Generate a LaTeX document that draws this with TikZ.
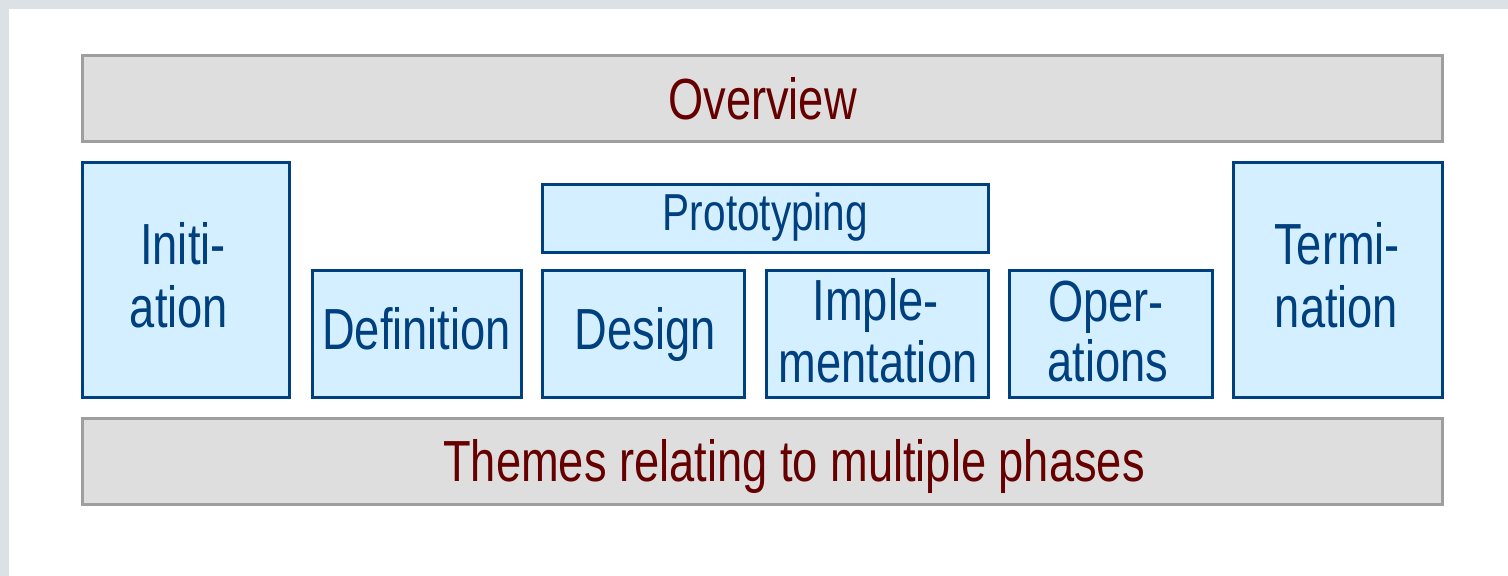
\documentclass[tikz,border=0pt]{standalone}
\usepackage{fontspec}
\newfontfamily\phasefont[FakeStretch=0.78]{Liberation Sans}
\definecolor{framegrey}{HTML}{DCE1E6}
\definecolor{barfill}{HTML}{DEDEDE}
\definecolor{barline}{HTML}{9E9E9E}
\definecolor{phasefill}{HTML}{D4EFFF}
\definecolor{phaseline}{HTML}{00407F}
\definecolor{bartext}{HTML}{660000}
\tikzset{
  bar/.style={draw=barline, fill=barfill, line width=1.5pt, inner sep=0pt, outer sep=0pt,
              minimum width=680pt, minimum height=43pt},
  phase/.style={draw=phaseline, fill=phasefill, line width=1.5pt, inner sep=0pt, outer sep=0pt},
  bartxt/.style={anchor=base, inner sep=0pt, text=bartext, font=\phasefont\fontsize{29pt}{31pt}\selectfont},
  phasetxt/.style={anchor=base, inner sep=0pt, text=phaseline, font=\phasefont\fontsize{29pt}{31pt}\selectfont},
  prototxt/.style={anchor=base, inner sep=0pt, text=phaseline, font=\phasefont\fontsize{26pt}{28pt}\selectfont}
}
\begin{document}
\begin{tikzpicture}[x=0.5pt, y=-0.5pt]
  \useasboundingbox (0,0) rectangle (1508,576);
  % page frame
  \fill[white] (0,0) rectangle (1508,576);
  \fill[framegrey] (0,0) rectangle (1508,9);
  \fill[framegrey] (0,0) rectangle (9,576);

  % horizontal bars
  \node[bar] (overview) at (762.5,98.5) {};
  \node[bar] (themes) at (762.5,461.5) {};

  % phase boxes
  \node[phase, minimum width=103.5pt, minimum height=117.5pt] (initiation) at (186,280) {};
  \node[phase, minimum width=104.5pt, minimum height=117.5pt] (termination) at (1338,280) {};
  \node[phase, minimum width=104.5pt, minimum height=63.5pt] (definition) at (417,334) {};
  \node[phase, minimum width=101pt, minimum height=63.5pt] (design) at (643.5,334) {};
  \node[phase, minimum width=111pt, minimum height=63.5pt] (implementation) at (877.5,334) {};
  \node[phase, minimum width=101.5pt, minimum height=63.5pt] (operations) at (1111,334) {};
  \node[phase, minimum width=223pt, minimum height=34pt] (prototyping) at (765.5,218.5) {};

  % labels
  \node[bartxt] (overviewlbl) at (762.5,120) {Overview};
  \node[bartxt] (themeslbl) at (794,481) {Themes relating to multiple phases};
  \node[phasetxt] (initA) at (183,265) {Initi-};
  \node[phasetxt] (initB) at (179,328) {ation};
  \node[phasetxt] (termA) at (1337,265) {Termi-};
  \node[phasetxt] (termB) at (1336.5,328) {nation};
  \node[phasetxt] (deflbl) at (416.5,350) {Definition};
  \node[phasetxt] (deslbl) at (645,350) {Design};
  \node[phasetxt] (implA) at (875.5,321) {Imple-};
  \node[phasetxt] (implB) at (878,383) {mentation};
  \node[phasetxt] (operA) at (1106,322) {Oper-};
  \node[phasetxt] (operB) at (1108,382) {ations};
  \node[prototxt] (protolbl) at (765.5,231) {Prototyping};
\end{tikzpicture}
\end{document}
